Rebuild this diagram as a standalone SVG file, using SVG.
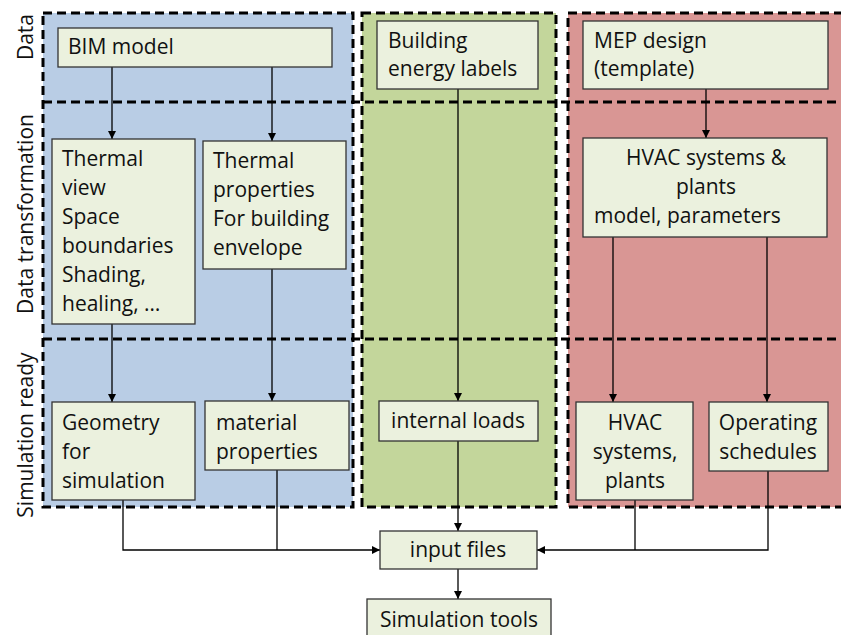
<svg xmlns="http://www.w3.org/2000/svg" width="841" height="635" viewBox="0 0 841 635">
  <style>
    text { font-family: "Open Sans", "Liberation Sans", sans-serif; font-size: 21px; fill: #111; }
    .c { text-anchor: middle; }
    .box { fill: #ebf1de; stroke: #333; stroke-width: 1.3; }
    .dash { fill: none; stroke: #000; stroke-width: 3; stroke-dasharray: 9 5; }
    .wire { fill: none; stroke: #000; stroke-width: 1.3; }
    .arr { marker-end: url(#head); }
  </style>
  <defs>
    <marker id="head" viewBox="0 0 10 10" refX="10" refY="5" markerWidth="8" markerHeight="8" markerUnits="userSpaceOnUse" orient="auto">
      <path d="M0,0 L10,5 L0,10 z" fill="#000"/>
    </marker>
  </defs>

  <!-- column panels -->
  <g id="panels">
    <rect x="43" y="13" width="310" height="494" fill="#b9cde5"/>
    <rect x="362" y="13" width="194" height="494" fill="#c3d69b"/>
    <rect x="568" y="13" width="280" height="494" fill="#d99694"/>
    <rect class="dash" x="43" y="13" width="310" height="494"/>
    <rect class="dash" x="362" y="13" width="194" height="494"/>
    <rect class="dash" x="568" y="13" width="290" height="494"/>
    <line class="dash" x1="43" y1="102" x2="841" y2="102"/>
    <line class="dash" x1="43" y1="339" x2="841" y2="339"/>
  </g>

  <!-- row labels -->
  <g id="row-labels">
    <text class="c" transform="translate(33,37) rotate(-90)">Data</text>
    <text class="c" transform="translate(33,214) rotate(-90)">Data transformation</text>
    <text class="c" transform="translate(33,435) rotate(-90)">Simulation ready</text>
  </g>

  <!-- connectors -->
  <g id="connectors">
    <line class="wire arr" x1="112" y1="67" x2="112" y2="139"/>
    <line class="wire arr" x1="272" y1="67" x2="272" y2="141"/>
    <line class="wire arr" x1="112" y1="324" x2="112" y2="402"/>
    <line class="wire arr" x1="272" y1="269" x2="272" y2="401"/>
    <line class="wire arr" x1="458" y1="89" x2="458" y2="401"/>
    <line class="wire arr" x1="706" y1="89" x2="706" y2="138"/>
    <line class="wire arr" x1="613" y1="237" x2="613" y2="402"/>
    <line class="wire arr" x1="767" y1="237" x2="767" y2="402"/>
    <line class="wire arr" x1="458" y1="441" x2="458" y2="531"/>
    <polyline class="wire arr" points="123,500 123,550 380,550"/>
    <line class="wire" x1="277" y1="470" x2="277" y2="550"/>
    <polyline class="wire arr" points="768,471 768,550 537,550"/>
    <line class="wire" x1="635" y1="500" x2="635" y2="550"/>
    <line class="wire arr" x1="458" y1="569" x2="458" y2="599"/>
  </g>

  <!-- data row -->
  <g id="bim-model">
    <rect class="box" x="58" y="28" width="274" height="39"/>
    <text x="68" y="54">BIM model</text>
  </g>
  <g id="energy-labels">
    <rect class="box" x="377" y="21" width="161" height="68"/>
    <text x="388" y="48">Building</text>
    <text x="388" y="76">energy labels</text>
  </g>
  <g id="mep-design">
    <rect class="box" x="583" y="21" width="245" height="68"/>
    <text x="594" y="48">MEP design</text>
    <text x="594" y="76">(template)</text>
  </g>

  <!-- data transformation row -->
  <g id="thermal-view">
    <rect class="box" x="52" y="139" width="143" height="185"/>
    <text x="62" y="166">Thermal</text>
    <text x="62" y="195">view</text>
    <text x="62" y="224">Space</text>
    <text x="62" y="253">boundaries</text>
    <text x="62" y="282">Shading,</text>
    <text x="62" y="311">healing, …</text>
  </g>
  <g id="thermal-properties">
    <rect class="box" x="203" y="141" width="143" height="128"/>
    <text x="213" y="168">Thermal</text>
    <text x="213" y="197">properties</text>
    <text x="213" y="226">For building</text>
    <text x="213" y="255">envelope</text>
  </g>
  <g id="hvac-model">
    <rect class="box" x="583" y="138" width="244" height="99"/>
    <text class="c" x="706" y="165">HVAC systems &amp;</text>
    <text class="c" x="706" y="194">plants</text>
    <text x="594" y="223">model, parameters</text>
  </g>

  <!-- simulation ready row -->
  <g id="geometry">
    <rect class="box" x="52" y="402" width="143" height="98"/>
    <text x="62" y="430">Geometry</text>
    <text x="62" y="459">for</text>
    <text x="62" y="488">simulation</text>
  </g>
  <g id="material-properties">
    <rect class="box" x="205" y="401" width="144" height="69"/>
    <text x="216" y="430">material</text>
    <text x="216" y="459">properties</text>
  </g>
  <g id="internal-loads">
    <rect class="box" x="379" y="401" width="159" height="40"/>
    <text class="c" x="458" y="428">internal loads</text>
  </g>
  <g id="hvac-systems">
    <rect class="box" x="576" y="402" width="117" height="98"/>
    <text class="c" x="635" y="430">HVAC</text>
    <text class="c" x="635" y="459">systems,</text>
    <text class="c" x="635" y="488">plants</text>
  </g>
  <g id="operating-schedules">
    <rect class="box" x="709" y="402" width="119" height="69"/>
    <text class="c" x="768" y="430">Operating</text>
    <text class="c" x="768" y="459">schedules</text>
  </g>

  <!-- outputs -->
  <g id="input-files">
    <rect class="box" x="380" y="531" width="157" height="38"/>
    <text class="c" x="458" y="557">input files</text>
  </g>
  <g id="simulation-tools">
    <rect class="box" x="367" y="599" width="184" height="40"/>
    <text class="c" x="459" y="627">Simulation tools</text>
  </g>
</svg>
